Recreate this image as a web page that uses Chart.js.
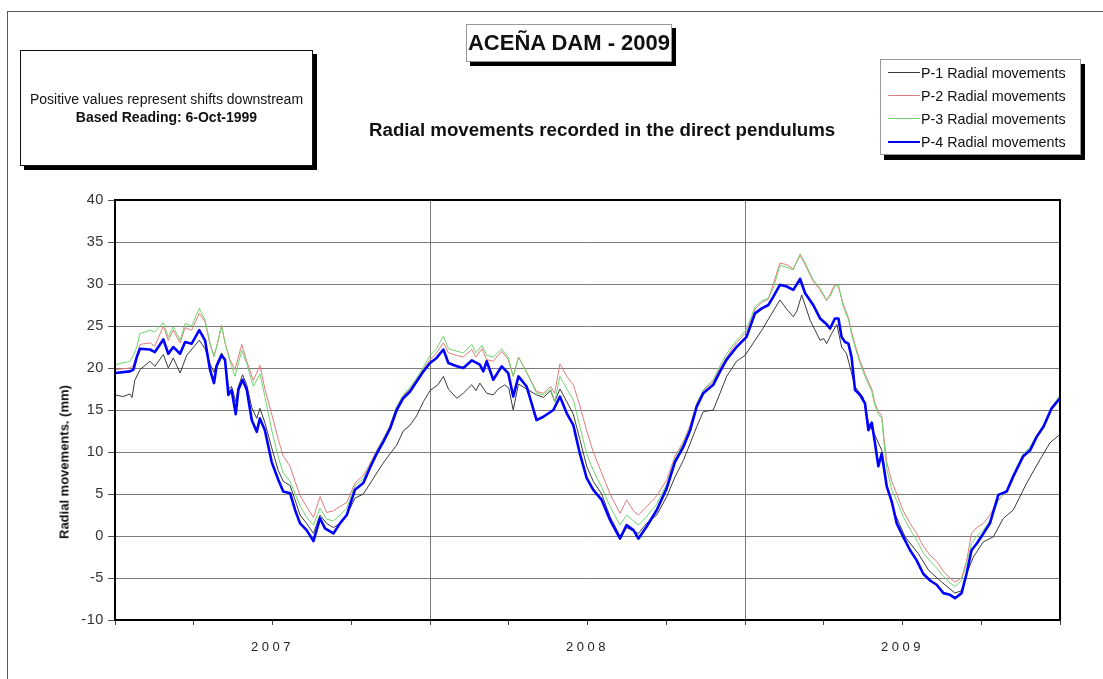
<!DOCTYPE html>
<html>
<head>
<meta charset="utf-8">
<script src="https://cdn.jsdelivr.net/npm/chart.js@4.4.1/dist/chart.umd.min.js"></script>
<style>
  html, body { margin:0; padding:0; background:#fff; }
  body { width:1103px; height:679px; position:relative; overflow:hidden; font-family:"Liberation Sans", Arial, sans-serif; color:#111; }
  #frame { position:absolute; left:7px; top:11px; width:1110px; height:700px; border-left:1.5px solid #555; border-top:1.5px solid #555; }
  canvas { position:absolute; left:0; top:0; }
  .box { position:absolute; background:#fff; box-sizing:border-box; }
  #note { left:20px; top:50px; width:293px; height:116px; border:1.5px solid #111; box-shadow:4px 4px 0 #000;
          display:flex; flex-direction:column; justify-content:center; align-items:center; font-size:14px; line-height:18px; }
  #title { left:466px; top:24px; width:206px; height:38px; border:1px solid #999; box-shadow:4px 4px 0 #000;
           font-size:22px; font-weight:bold; line-height:36px; text-align:center; white-space:nowrap; }
  #subtitle { position:absolute; left:369px; top:119px; font-size:18.7px; font-weight:bold; white-space:nowrap; line-height:22px; }
  #legend { left:880px; top:59px; width:201px; height:96px; border:1px solid #999; box-shadow:4px 5px 0 #000; padding-top:1px; }
  .item { height:23px; display:flex; align-items:center; font-size:14.3px; white-space:nowrap; }
  .swatch { margin-left:7px; width:32px; margin-right:1px; }
  #ytitle { position:absolute; left:64px; top:462px; transform:translate(-50%,-50%) rotate(-90deg); font-size:13px; font-weight:bold; white-space:nowrap; }
</style>
</head>
<body>
<div id="frame"></div>
<canvas id="c" width="1103" height="679"></canvas>
<div class="box" id="note"><div>Positive values represent shifts downstream</div><div style="font-weight:bold">Based Reading: 6-Oct-1999</div></div>
<div class="box" id="title">ACEÑA DAM - 2009</div>
<div id="subtitle">Radial movements recorded in the direct pendulums</div>
<div class="box" id="legend"></div>
<div id="ytitle">Radial movements. (mm)</div>
<script>
// ---- Data (x = months since start of 2007) ----
const seriesNames = ["P-1 Radial movements", "P-2 Radial movements", "P-3 Radial movements", "P-4 Radial movements"];
const yearLabels = ["2007", "2008", "2009"];
const yTicks = [-10, -5, 0, 5, 10, 15, 20, 25, 30, 35, 40];

const p1Months = [0,0.3,0.57,0.65,0.75,0.95,1.33,1.52,1.84,2.03,2.22,2.48,2.73,3.21,3.43,3.62,3.77,3.87,4.06,4.19,4.32,4.44,4.60,4.70,4.86,5.02,5.21,5.40,5.52,5.71,5.97,6.22,6.41,6.67,6.86,7.05,7.30,7.56,7.81,8.06,8.32,8.57,8.83,9.14,9.46,9.71,9.97,10.22,10.48,10.73,10.98,11.24,11.49,11.75,12.0,
  12.3,12.51,12.7,13.02,13.27,13.59,13.75,13.9,14.16,14.41,14.6,14.85,15.0,15.17,15.37,15.68,16.06,16.32,16.6,16.75,16.95,17.21,17.46,17.71,17.97,18.22,18.54,18.86,19.24,19.49,19.75,19.94,20.25,20.64,21.02,21.33,21.65,21.91,22.16,22.41,22.79,23.05,23.3,23.68,24.0,24.32,
  24.64,24.89,25.08,25.33,25.59,25.84,25.98,26.16,26.48,26.86,27.0,27.11,27.3,27.5,27.68,27.87,28.19,28.5,28.7,28.95,29.21,29.4,29.7,30.1,30.6,31.0,31.5,32.0,32.25,32.44,32.7,33.08,33.46,33.84,34.22,34.73,35.24,35.62,36.0];
const p1Values = [16.8,16.6,16.9,16.5,18.5,19.8,20.8,20.2,21.6,20.0,21.2,19.4,21.5,23.3,22.3,20.5,19.5,20.5,21.8,21.0,17.5,17.8,16.0,17.8,19.2,18.0,15.3,14.0,15.2,13.5,10.5,7.8,6.5,6.0,4.3,2.5,1.5,0.3,2.5,1.5,1.0,1.5,2.5,4.5,5.0,6.2,7.5,8.7,9.8,10.8,12.5,13.2,14.3,16.0,17.3,
  18.0,19.0,17.5,16.4,17.0,18.0,17.3,18.2,17.0,16.8,17.5,18.0,17.6,15.0,18.1,17.5,16.8,16.5,17.3,16.0,17.5,16.0,14.5,11.5,8.3,6.5,5.0,2.3,0.0,1.0,0.6,0.3,1.5,2.5,4.7,7.0,9.0,11.0,13.0,14.8,15.0,17.0,19.0,20.8,21.5,23.0,
  24.5,25.8,26.8,28.1,27.0,26.1,26.8,28.7,25.7,23.3,23.5,22.9,24.1,25.2,22.5,21.7,17.8,16.5,13.5,12.0,10.2,5.9,2.7,-0.1,-2.1,-4.1,-5.5,-6.8,-6.5,-4.5,-2.5,-0.7,-0.1,2.1,3.1,6.3,9.1,11.1,12.1];

const p23Months = [0,0.57,0.70,0.83,0.95,1.33,1.52,1.84,2.03,2.22,2.48,2.67,2.92,3.21,3.43,3.62,3.77,3.87,4.06,4.19,4.38,4.57,4.83,5.02,5.27,5.52,5.71,5.97,6.22,6.41,6.67,6.86,7.05,7.30,7.56,7.81,8.06,8.32,8.57,8.83,9.14,9.46,9.71,9.97,10.22,10.48,10.73,10.98,11.24,11.49,11.75,12.0,
  12.25,12.51,12.70,13.02,13.27,13.59,13.75,13.98,14.16,14.41,14.73,14.98,15.17,15.37,15.68,16.06,16.32,16.6,16.75,16.95,17.21,17.46,17.71,17.97,18.22,18.54,18.86,19.24,19.49,19.75,19.94,20.25,20.64,21.02,21.33,21.65,21.91,22.16,22.41,22.79,23.05,23.3,23.68,24.06,24.38,
  24.64,24.89,25.08,25.33,25.59,25.84,26.10,26.29,26.6,26.86,27.11,27.24,27.43,27.56,27.75,27.94,28.06,28.19,28.38,28.57,28.83,28.95,29.08,29.21,29.3,29.4,29.59,29.78,30.03,30.29,30.54,30.79,31.05,31.30,31.56,31.81,32.0,32.25,32.44,32.63,32.83,33.08,33.33,33.65,33.97,34.22,34.6,34.86,35.11,35.37,35.68,36.0];
const p2Values = [19.8,20.0,20.3,21.5,22.8,23.0,22.6,25.0,23.3,24.5,23.0,24.8,24.5,26.5,25.5,22.8,21.5,22.5,25.1,23.0,21.0,19.8,22.8,20.8,18.5,20.3,17.5,14.5,11.5,9.5,8.3,6.5,4.8,3.5,2.2,4.7,2.8,3.0,3.5,4.0,6.3,7.2,8.6,10.2,11.6,13.2,15.4,16.7,17.5,18.6,19.9,21.0,
  21.8,23.0,21.8,21.5,21.3,22.2,21.3,22.3,21.0,20.8,22.0,21.0,19.0,21.3,19.5,17.2,17.0,17.8,17.0,20.5,19.0,18.0,15.5,12.5,10.0,7.5,5.0,2.7,4.3,3.0,2.5,3.5,4.8,6.7,9.5,11.2,13.2,15.8,17.3,18.4,20.0,21.3,23.0,24.3,27.0,
  27.8,28.2,30.0,32.5,32.3,31.8,33.4,32.3,30.3,29.3,28.0,28.8,30.0,29.7,27.5,26.0,24.3,22.8,20.9,19.3,17.5,15.8,14.8,14.3,11.5,8.8,6.5,5.0,3.0,1.5,0.3,-1.2,-2.3,-3.0,-4.2,-5.0,-5.5,-5.0,-3.0,0.3,1.0,1.5,2.5,4.3,5.3,7.0,9.5,10.4,11.8,13.0,15.2,16.6];
const p3Values = [20.4,20.8,21.5,22.5,24.1,24.5,24.3,25.4,23.7,24.9,23.3,25.3,25.0,27.1,25.7,23.0,21.3,22.5,25.0,23.0,20.8,19.0,22.1,20.5,17.8,19.3,16.6,12.6,9.4,7.5,6.5,5.0,3.6,2.2,1.3,3.3,2.0,1.8,2.5,3.3,6.0,6.8,8.4,10.1,11.5,13.1,15.4,16.8,17.7,18.8,20.1,21.5,
  22.3,23.8,22.3,22.0,21.8,22.8,21.8,22.7,21.5,21.3,22.3,21.3,19.0,21.3,19.5,17.0,16.8,17.5,16.0,19.0,17.5,16.2,13.0,9.8,7.8,5.8,3.5,1.3,2.5,1.8,1.3,2.3,3.8,6.2,9.2,11.0,13.0,15.7,17.4,18.6,20.3,21.7,23.3,24.6,27.3,
  28.0,28.3,29.5,32.2,32.0,31.7,33.6,32.5,30.5,29.5,28.1,28.5,29.8,29.9,27.2,25.8,24.0,22.5,20.6,19.0,17.2,15.5,14.5,14.0,11.0,8.0,5.5,4.2,2.3,0.8,-0.5,-2.0,-3.0,-3.8,-4.8,-5.6,-6.0,-5.3,-3.3,-0.9,0.0,0.7,1.8,4.2,5.5,7.3,9.8,10.6,12.0,13.2,15.3,16.8];

const p4Months = [0,0.57,0.70,0.83,0.95,1.33,1.52,1.84,2.03,2.22,2.48,2.67,2.92,3.21,3.43,3.62,3.77,3.87,4.06,4.19,4.32,4.44,4.60,4.70,4.86,5.02,5.21,5.40,5.52,5.71,5.97,6.22,6.41,6.67,6.86,7.05,7.30,7.56,7.68,7.81,8.00,8.32,8.57,8.83,9.14,9.46,9.71,9.97,10.22,10.48,10.73,10.98,11.24,11.49,11.75,12.00,
  12.25,12.51,12.70,13.02,13.27,13.59,13.90,14.03,14.16,14.41,14.73,14.98,15.17,15.37,15.68,16.06,16.32,16.70,16.95,17.21,17.46,17.71,17.97,18.22,18.54,18.86,19.24,19.49,19.75,19.94,20.25,20.64,21.02,21.33,21.65,21.91,22.16,22.41,22.79,23.05,23.30,23.68,24.06,24.38,
  24.64,24.89,25.08,25.33,25.59,25.84,26.10,26.29,26.60,26.86,27.11,27.24,27.43,27.56,27.68,27.81,27.94,28.06,28.19,28.38,28.57,28.70,28.83,28.95,29.08,29.21,29.40,29.59,29.78,30.03,30.29,30.54,30.79,31.05,31.30,31.56,31.81,32.00,32.25,32.44,32.63,32.83,33.08,33.33,33.65,33.97,34.22,34.60,34.86,35.11,35.37,35.68,36.00];
const p4Values = [19.4,19.6,19.8,21.3,22.3,22.2,21.9,23.4,21.7,22.5,21.7,23.1,22.9,24.5,23.3,19.8,18.2,20.2,21.5,21.0,16.8,17.4,14.5,17.4,18.6,17.4,13.8,12.4,14.0,12.6,8.8,6.7,5.3,5.1,3.1,1.5,0.7,-0.6,0.7,2.1,0.9,0.3,1.5,2.5,5.5,6.3,8.1,9.8,11.2,12.8,15.0,16.4,17.2,18.4,19.6,20.6,
  21.2,22.2,20.6,20.2,20.0,20.9,20.4,19.6,20.8,18.6,20.2,19.4,16.6,19.0,17.8,13.8,14.2,15.0,16.6,14.6,13.2,9.8,6.9,5.5,4.3,1.9,-0.3,1.3,0.7,-0.3,1.1,3.1,5.7,8.8,10.6,12.6,15.4,17.0,18.0,19.6,21.0,22.5,23.7,26.5,
  27.1,27.5,28.5,29.9,29.7,29.3,30.6,28.9,27.5,25.9,25.2,24.7,25.9,25.9,23.7,23.1,22.9,21.3,17.4,16.8,15.8,12.6,13.5,11.1,8.3,9.8,5.9,4.1,1.5,-0.1,-1.7,-2.9,-4.5,-5.3,-5.8,-6.8,-7.0,-7.4,-6.8,-4.5,-1.7,-0.9,0.3,1.5,4.9,5.3,7.1,9.5,10.2,11.8,13.0,15.2,16.4];

const seriesColors = ["#3a3a3a", "#e07a7a", "#6fd66f", "#0000ff"];
const seriesWidths = [1, 1, 1, 2.6];

// ---- Helpers ----
const zip = (xs, ys) => xs.map((x, i) => ({ x: x, y: ys[i] }));
const seriesData = [zip(p1Months, p1Values), zip(p23Months, p2Values), zip(p23Months, p3Values), zip(p4Months, p4Values)];

// HTML legend
const legendEl = document.getElementById('legend');
seriesNames.forEach((name, i) => {
  const row = document.createElement('div');
  row.className = 'item';
  const sw = document.createElement('div');
  sw.className = 'swatch';
  sw.style.borderTop = seriesWidths[i] + 'px solid ' + seriesColors[i];
  row.appendChild(sw);
  const t = document.createElement('span');
  t.textContent = name;
  row.appendChild(t);
  legendEl.appendChild(row);
});

// Linear scale with letter-spaced labels
const SPACING = { x: '3.5px', y: '0.6px' };
class SpacedLinearScale extends Chart.LinearScale {
  drawLabels(chartArea) {
    const ctx = this.ctx;
    ctx.save();
    if ('letterSpacing' in ctx) ctx.letterSpacing = SPACING[this.id] || '0px';
    super.drawLabels(chartArea);
    ctx.restore();
  }
}
SpacedLinearScale.id = 'spacedLinear';
SpacedLinearScale.defaults = Chart.LinearScale.defaults;
Chart.register(SpacedLinearScale);

const frameBorder = {
  id: 'frameBorder',
  afterDatasetsDraw(chart) {
    const { ctx, chartArea: a } = chart;
    ctx.save();
    ctx.strokeStyle = '#000';
    ctx.lineWidth = 2;
    ctx.strokeRect(a.left, a.top, a.right - a.left, a.bottom - a.top);
    ctx.restore();
  }
};

Chart.defaults.font.family = '"Liberation Sans", Arial, sans-serif';
Chart.defaults.color = '#222';

new Chart(document.getElementById('c'), {
  type: 'line',
  data: {
    datasets: seriesNames.map((name, i) => ({
      label: name,
      data: seriesData[i],
      borderColor: seriesColors[i],
      backgroundColor: seriesColors[i],
      borderWidth: seriesWidths[i],
      pointRadius: 0,
      tension: 0,
      fill: false,
      borderJoinStyle: 'round',
      order: 4 - i
    }))
  },
  options: {
    responsive: false,
    animation: false,
    events: [],
    layout: { padding: { left: 0, top: 200, right: 43, bottom: 0 } },
    plugins: { legend: { display: false }, tooltip: { enabled: false }, title: { display: false } },
    scales: {
      x: {
        type: 'spacedLinear',
        min: 0, max: 36,
        afterFit: (s) => { s.height = 59; },
        afterBuildTicks: (s) => { s.ticks = []; for (let m = 0; m <= 36; m += 3) s.ticks.push({ value: m }); },
        ticks: {
          autoSkip: false, maxRotation: 0, padding: 15,
          font: { size: 13 }, color: '#222',
          callback: (v) => (v % 12 === 6 ? yearLabels[(v - 6) / 12] : '')
        },
        grid: {
          color: (ctx) => (ctx.tick && (ctx.tick.value === 12 || ctx.tick.value === 24)) ? '#7a7a7a' : 'rgba(0,0,0,0)',
          tickColor: '#444', tickLength: 5, lineWidth: 1
        },
        border: { display: false }
      },
      y: {
        type: 'spacedLinear',
        min: -10, max: 40,
        afterFit: (s) => { s.width = 115; },
        afterBuildTicks: (s) => { s.ticks = yTicks.map(v => ({ value: v })); },
        ticks: { padding: 4, font: { size: 14.5 }, color: '#333' },
        grid: { color: '#7a7a7a', tickColor: '#555', tickLength: 7, lineWidth: 1 },
        border: { display: false }
      }
    }
  },
  plugins: [frameBorder]
});
</script>
</body>
</html>
